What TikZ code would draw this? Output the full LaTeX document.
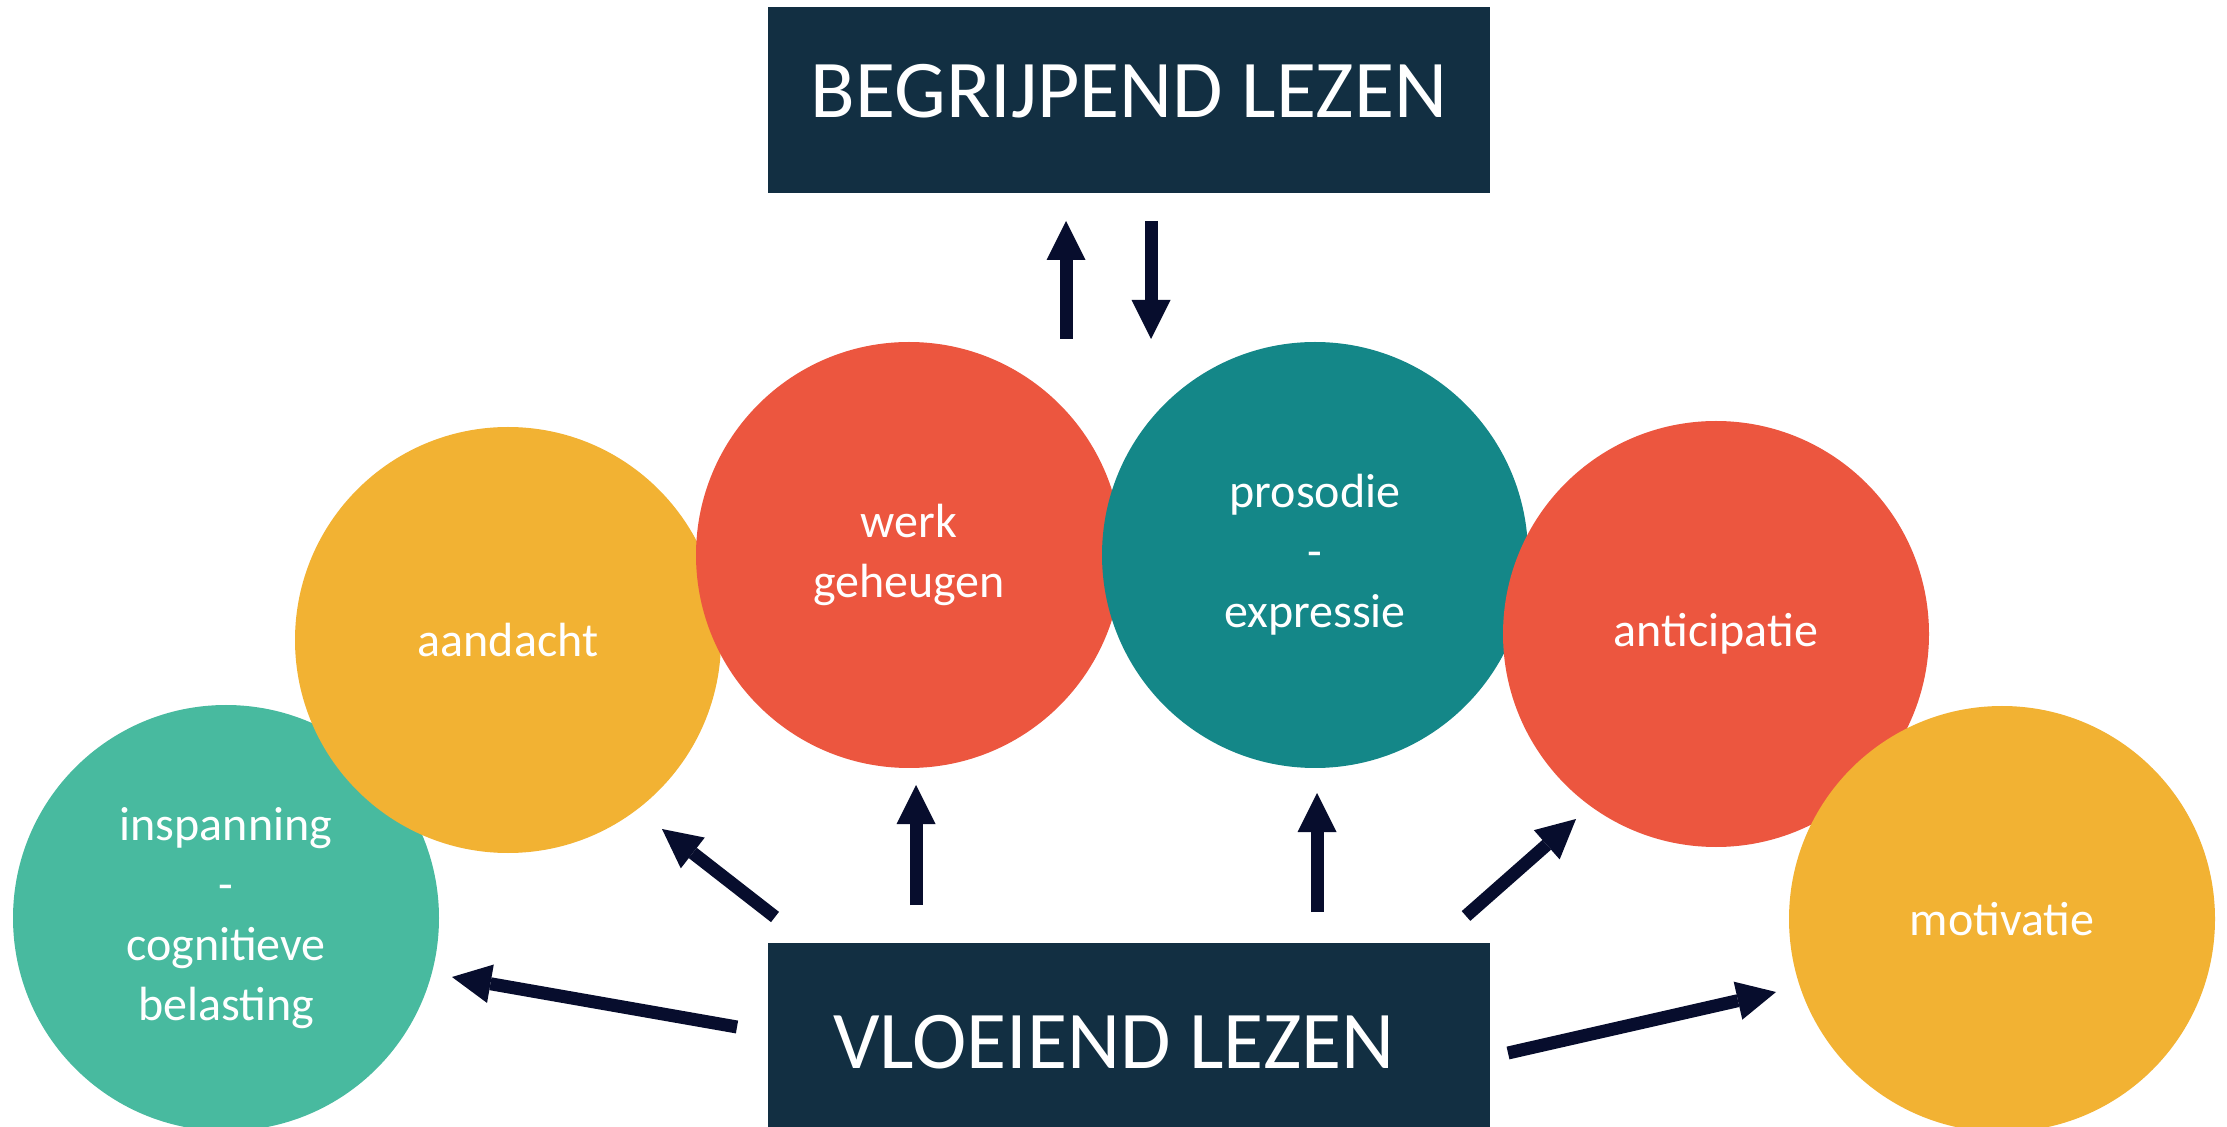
\documentclass[tikz,border=0pt]{standalone}
\usepackage{fontspec}
\setmainfont{Carlito}
\usetikzlibrary{arrows.meta}
\definecolor{boxc}{RGB}{18,47,66}
\definecolor{redc}{RGB}{236,86,63}
\definecolor{yelc}{RGB}{242,178,51}
\definecolor{greenc}{RGB}{72,186,159}
\definecolor{tealc}{RGB}{20,135,136}
\definecolor{arrc}{RGB}{7,13,45}
\tikzset{
  titlebox/.style={fill=boxc, text=white, inner sep=0pt, minimum width=361pt,
    font=\fontsize{41}{49}\selectfont},
  circ/.style={circle, inner sep=0pt, minimum size=213pt, text=white, align=center,
    font=\fontsize{24}{30}\selectfont},
  blockarrow/.style={draw=arrc, line width=6.5pt,
    -{Triangle[width=19.5pt,length=19.5pt,line width=0pt]}, fill=none}
}
\begin{document}
\begin{tikzpicture}[x=0.5pt,y=-0.5pt]
\fill[white] (0,0) rectangle (2227,1127);
\useasboundingbox (0,0) rectangle (2227,1127);

% boxes
\node[titlebox, text height=55.5pt, text depth=37.5pt, anchor=base] (begrip) at (1129,118) {BEGRIJPEND LEZEN};
\node[titlebox, text height=62.5pt, text depth=31pt, anchor=base] (vloei) at (1129,1068) {VLOEIEND LEZEN\hspace*{15pt}};

% circles (left to right, each on top of the previous)
\node[circ, fill=greenc] (insp) at (226,918) {inspanning\\-\\cognitieve\\belasting};
\node[circ, fill=yelc] (aand) at (508,640) {aandacht};
\node[circ, fill=redc] (werk) at (909,555) {werk\\geheugen};
\node[circ, fill=tealc] (pros) at (1315,555) {prosodie\\-\\expressie};
\node[circ, fill=redc] (anti) at (1716,634) {anticipatie};
\node[circ, fill=yelc] (moti) at (2002,919) {motivatie};

% arrow end points
\coordinate (upA) at (1066,339);  \coordinate (upB) at (1066,221);
\coordinate (dnA) at (1151,221);  \coordinate (dnB) at (1151,339);
\coordinate (wA) at (916,905);    \coordinate (wB) at (916,785);
\coordinate (pA) at (1317,912);   \coordinate (pB) at (1317,793);
\coordinate (aA) at (775,917);    \coordinate (aB) at (662,829);
\coordinate (nA) at (1466,916);   \coordinate (nB) at (1576,819);
\coordinate (iA) at (737,1027);   \coordinate (iB) at (452,977);
\coordinate (mA) at (1508,1053);  \coordinate (mB) at (1776,992);

\draw[blockarrow] (upA) -- (upB);
\draw[blockarrow] (dnA) -- (dnB);
\draw[blockarrow] (wA) -- (wB);
\draw[blockarrow] (pA) -- (pB);
\draw[blockarrow] (aA) -- (aB);
\draw[blockarrow] (nA) -- (nB);
\draw[blockarrow] (iA) -- (iB);
\draw[blockarrow] (mA) -- (mB);
\end{tikzpicture}
\end{document}
